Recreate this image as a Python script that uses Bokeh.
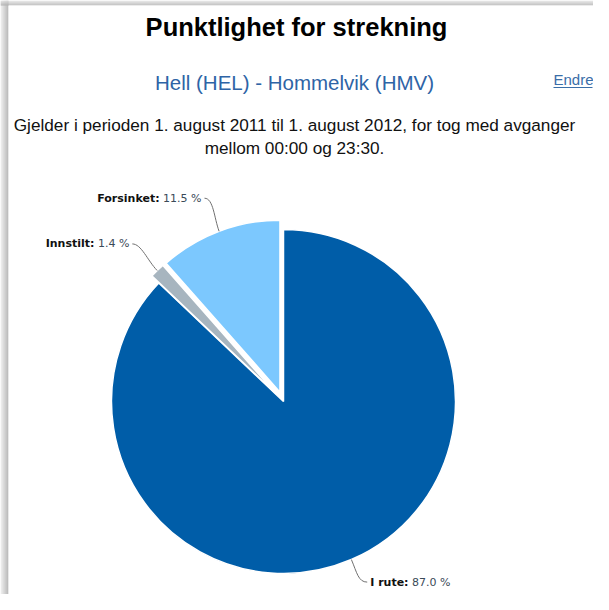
import numpy as np
from bokeh.plotting import figure
from bokeh.models import Range1d
from bokeh.core.properties import value
from bokeh.embed import file_html
from bokeh.resources import INLINE

# ---- data ----
names = ["I rute", "Innstilt", "Forsinket"]
shares = [87.0, 1.4, 11.5]
colors = ["#005DA8", "#A7B5BF", "#7CC8FE"]
sliced = [False, True, True]

title = "Punktlighet for strekning"
subtitle = "Hell (HEL) - Hommelvik (HMV)"
desc_lines = ["Gjelder i perioden 1. august 2011 til 1. august 2012, for tog med avganger",
              "mellom 00:00 og 23:30."]
link_text = "Endre"

# ---- layout helpers (screen px -> data, y up) ----
W, H = 593, 594
def Y(ys):
    return 610 - ys

p = figure(width=W, height=H, output_backend="svg", toolbar_location=None,
           x_range=Range1d(8, 601), y_range=Range1d(8, 602), min_border=0)
p.axis.visible = False
p.grid.visible = False
p.outline_line_color = None
p.background_fill_color = "white"
p.border_fill_color = "white"

# window shadow (left & top edges)
for k in range(8):
    g = int(235 - k * 10)
    col = "#%02x%02x%02x" % (g, g, g)
    p.quad(left=8 + k, right=9 + k, bottom=Y(602), top=Y(8), fill_color=col, line_color=None)
for k in range(5):
    g = int(225 - k * 12)
    col = "#%02x%02x%02x" % (g, g, g)
    p.quad(left=8, right=601, bottom=Y(9 + k), top=Y(8 + k), fill_color=col, line_color=None)
p.quad(left=16, right=601, bottom=Y(602), top=Y(13), fill_color="white", line_color=None)

# ---- texts ----
p.text(x=[304], y=[Y(34)], text=[title], text_font=value("Liberation Sans"),
       text_font_style="bold", text_font_size=value("25.5px"), text_color="#000000",
       text_align="center", text_baseline="middle")
p.text(x=[302], y=[Y(90)], text=[subtitle], text_font=value("Liberation Sans"),
       text_font_size=value("20.5px"), text_color="#2E64A6",
       text_align="center", text_baseline="middle")
p.text(x=[601], y=[Y(87)], text=[link_text], text_font=value("Liberation Sans"),
       text_font_size=value("15px"), text_color="#3A6EA8",
       text_align="right", text_baseline="middle")
p.segment(x0=[561], y0=[Y(95)], x1=[600], y1=[Y(95)], line_color="#3A6EA8", line_width=1)
for i, line in enumerate(desc_lines):
    p.text(x=[302], y=[Y(132 + 23 * i)], text=[line], text_font=value("Liberation Sans"),
           text_font_size=value("17.2px"), text_color="#111111",
           text_align="center", text_baseline="middle")

# ---- pie ----
CX, CY, R = 291.0, Y(409.0), 172.0
OFFSET = 10.0
total = sum(shares)
cum = np.concatenate([[0.0], np.cumsum(shares)]) / total * 360.0  # clockwise from top

reg_w = {" ": 0.318, ".": 0.318, "%": 0.950}
reg_w.update({d: 0.636 for d in "0123456789"})
bold_w = {"I": 0.372, " ": 0.348, "r": 0.493, "u": 0.712, "t": 0.478, "e": 0.678, ":": 0.400,
          "F": 0.630, "o": 0.687, "s": 0.595, "i": 0.343, "n": 0.712, "k": 0.665, "l": 0.343}
FS = 11.0
SP = 0.318 * FS
def width(s, table):
    return sum(table.get(c, 0.6) for c in s) * FS

for i, (nm, v, col, sl) in enumerate(zip(names, shares, colors, sliced)):
    c0, c1 = cum[i], cum[i + 1]
    mid = np.radians((c0 + c1) / 2)
    dx, dy = np.sin(mid), np.cos(mid)
    cx = CX + (OFFSET * dx if sl else 0)
    cy = CY + (OFFSET * dy if sl else 0)
    p.wedge(x=[cx], y=[cy], radius=R, start_angle=np.radians(90 - c1),
            end_angle=np.radians(90 - c0), direction="anticlock",
            fill_color=col, line_color="white", line_width=1.5)

    side = 1 if dx > 0 else -1
    ax = cx + (R + 30) * dx
    ay = cy + (R + 30) * dy
    lx = ax + side * 7
    ly = ay + 5
    name_s = nm + ":"
    val_s = "%.1f %%" % v
    if side < 0:
        vstart = lx - width(val_s, reg_w)
        split = vstart - SP
    else:
        split = lx + width(name_s, bold_w)
        vstart = split + SP
    p.text(x=[split], y=[ly], text=[name_s], text_font=value("DejaVu Sans"),
           text_font_style="bold", text_font_size=value("11px"), text_color="#111111",
           text_align="right", text_baseline="middle")
    p.text(x=[vstart], y=[ly], text=[val_s], text_font=value("DejaVu Sans"),
           text_font_size=value("11px"), text_color="#3A4A58",
           text_align="left", text_baseline="middle")
    # connector
    sx = lx - side * 3
    ex, ey = cx + R * dx, cy + R * dy
    p.bezier(x0=[sx], y0=[ly], x1=[ex], y1=[ey],
             cx0=[sx - side * 9], cy0=[ly],
             cx1=[cx + (R + 14) * dx], cy1=[cy + (R + 14) * dy],
             line_color="#707070", line_width=1)

open("out.html", "w").write(file_html(p, INLINE))
